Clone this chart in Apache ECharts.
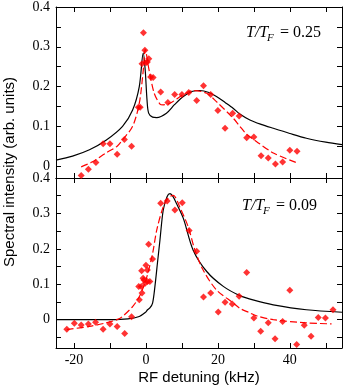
<!DOCTYPE html>
<html>
<head>
<meta charset="utf-8">
<script src="https://cdn.jsdelivr.net/npm/echarts@6/dist/echarts.min.js"></script>
<style>
  html, body { margin: 0; padding: 0; background: #fff; }
  #chart { width: 346px; height: 388px; }
</style>
</head>
<body>
<div id="chart"></div>
<script>
// top panel, T/TF = 0.25
var topPoints = [
  [-18, -0.024], [-16, -0.008], [-13.9, 0.009], [-11.9, 0.056], [-10, 0.056],
  [-8, 0.03], [-6, 0.067], [-4, 0.05], [-2.1, 0.148], [-1.6, 0.148],
  [-1.1, 0.257], [-0.7, 0.335], [-0.3, 0.291], [0, 0.26], [0.4, 0.262],
  [0.8, 0.27], [1.3, 0.224], [2, 0.223], [4.1, 0.186], [6.1, 0.16],
  [8, 0.18], [10, 0.18], [11.9, 0.185], [14.1, 0.165], [16, 0.202],
  [18, 0.18], [20, 0.14], [22, 0.095], [24.1, 0.133], [25.9, 0.126],
  [28, 0.071], [30, 0.073], [32, 0.026], [34, 0.02], [36, 0.005],
  [38, 0.01], [40, 0.04], [42, 0.037]
]
var topTheory = [
  [-25, 0.015], [-20.4, 0.025], [-15.7, 0.041], [-11.1, 0.065], [-6.5, 0.1],
  [-3.7, 0.141], [-1.85, 0.2], [-0.75, 0.285], [-0.2, 0.241], [0.3, 0.166],
  [0.75, 0.133], [1.85, 0.123], [3, 0.122], [5.7, 0.133], [8, 0.155],
  [10.4, 0.175], [13, 0.188], [15, 0.19], [17.5, 0.185], [19.6, 0.175],
  [22, 0.16], [24.3, 0.145], [26.1, 0.131], [28.9, 0.116], [32, 0.105],
  [35.4, 0.095], [40, 0.082], [44.6, 0.07], [50, 0.06], [54.5, 0.054]
]
var topFit = [
  [-18, -0.002], [-15, 0.01], [-11.1, 0.033], [-8, 0.05], [-6.5, 0.066],
  [-3.7, 0.1], [-1.85, 0.158], [-0.75, 0.24], [-0.2, 0.293], [0.9, 0.24],
  [2.3, 0.183], [3.9, 0.156], [4.8, 0.154], [6.7, 0.158], [10.4, 0.18],
  [13.1, 0.19], [16.9, 0.183], [19.6, 0.162], [24.3, 0.12], [26.1, 0.1],
  [28, 0.08], [30.7, 0.062], [35.4, 0.033], [42, 0.008]
]

// bottom panel, T/TF = 0.09
var botPoints = [
  [-22, -0.027], [-19.9, -0.01], [-18, -0.015], [-16, -0.012], [-14, -0.007],
  [-11.9, -0.027], [-10, -0.012], [-8, -0.019], [-5.9, -0.039], [-4, 0.008],
  [-1.85, 0.056], [-2, 0.094], [-1.3, 0.094], [-1.1, 0.075], [-1.2, 0.138],
  [-0.8, 0.117], [-0.55, 0.112], [-0.2, 0.103], [0, 0.154], [0.4, 0.14],
  [0.75, 0.213], [0.45, 0.108], [1.1, 0.108], [1.85, 0.171], [4.1, 0.329],
  [5.9, 0.335], [8.05, 0.31], [10.1, 0.33], [12, 0.252], [14.1, 0.193],
  [16, 0.064], [18, 0.075], [20.1, 0.022], [22, 0.049], [24, 0.044],
  [25.9, 0.066], [28, 0.133], [30, 0.005], [31.9, -0.033], [34, -0.009],
  [35.9, -0.054], [38, -0.005], [40, 0.083], [41.9, -0.07], [44, -0.016],
  [45.9, -0.047], [47.9, 0.006], [49.9, 0.005], [52, 0.028]
]
var botTheory = [
  [-25, 0], [-10, 0], [-5, 0.002], [-1.85, 0.009], [-0.2, 0.02],
  [0.45, 0.028], [1.1, 0.033], [1.85, 0.047], [2.5, 0.094], [3.2, 0.16],
  [3.9, 0.225], [4.8, 0.309], [5.9, 0.348], [6.7, 0.356], [7.5, 0.348],
  [8.5, 0.328], [10.4, 0.286], [13.1, 0.197], [16.9, 0.136], [21.5, 0.094],
  [26.1, 0.068], [30, 0.055], [35.4, 0.042], [44.6, 0.028], [54.5, 0.021]
]
var botFit = [
  [-22, -0.028], [-15.7, -0.019], [-11.1, -0.009], [-8, 0.0], [-6.5, 0.009],
  [-3.7, 0.037], [-1.85, 0.065], [0, 0.112], [1.85, 0.187], [3, 0.253],
  [4.8, 0.318], [6.3, 0.345], [7.6, 0.351], [9.4, 0.318], [11.75, 0.262],
  [13.6, 0.197], [15.9, 0.14], [19.6, 0.084], [24.3, 0.047], [26.1, 0.032],
  [28.9, 0.019], [30.7, 0.011], [35.4, 0], [44.6, -0.009], [51.6, -0.012]
]

var xTicks = [-20, -10, 0, 10, 20, 30, 40, 50]
var xLabels = [-20, 0, 20, 40]
var topYTicks = [0, 0.05, 0.1, 0.15, 0.2, 0.25, 0.3, 0.35, 0.4]
var botYTicks = [-0.05, 0, 0.05, 0.1, 0.15, 0.2, 0.25, 0.3, 0.35, 0.4]
var yLabels = [0, 0.1, 0.2, 0.3, 0.4]

var serif = '"Liberation Serif", "Times New Roman", serif'
var sans = '"Liberation Sans", Arial, sans-serif'

function xAxis(grid, pos, labels) {
  return {
    type: 'value', gridIndex: grid, position: pos, min: -25, max: 54.5,
    splitLine: { show: false },
    axisLine: { show: true, onZero: false, lineStyle: { color: '#000', width: 1 } },
    axisTick: { show: true, inside: true, length: 5, customValues: xTicks, lineStyle: { color: '#000' } },
    axisLabel: {
      show: labels, customValues: xLabels, color: '#000', fontFamily: serif, fontSize: 14, margin: 5
    }
  }
}
function yAxis(grid, pos, min, ticks, labels) {
  return {
    type: 'value', gridIndex: grid, position: pos, min: min, max: 0.4,
    splitLine: { show: false },
    axisLine: { show: true, onZero: false, lineStyle: { color: '#000', width: 1 } },
    axisTick: { show: true, inside: true, length: 5, customValues: ticks, lineStyle: { color: '#000' } },
    axisLabel: {
      show: labels, customValues: yLabels, color: '#000', fontFamily: serif, fontSize: 14, margin: 6,
      formatter: function (v) { return v === 0 ? '0' : v.toFixed(1) }
    }
  }
}

function scatter(x, y, data) {
  return {
    type: 'scatter', xAxisIndex: x, yAxisIndex: y, data: data,
    symbol: 'diamond', symbolSize: 7, itemStyle: { color: '#ff0000' }, z: 5
  }
}
function line(x, y, data, color, dashed) {
  return {
    type: 'line', xAxisIndex: x, yAxisIndex: y, data: data, smooth: 0.3,
    showSymbol: false, symbol: 'none',
    lineStyle: { color: color, width: 1.2, type: dashed ? [7, 3] : 'solid' }, z: 3
  }
}

var chart = echarts.init(document.getElementById('chart'))
chart.setOption({
  animation: false,
  grid: [
    { left: 56, top: 7, width: 286, height: 171 },
    { left: 56, top: 178, width: 286, height: 170 }
  ],
  xAxis: [
    xAxis(0, 'bottom', false),
    xAxis(0, 'top', false),
    xAxis(1, 'bottom', true),
    xAxis(1, 'top', false)
  ],
  yAxis: [
    yAxis(0, 'left', -0.03, topYTicks, true),
    yAxis(0, 'right', -0.03, topYTicks, false),
    yAxis(1, 'left', -0.08, botYTicks, true),
    yAxis(1, 'right', -0.08, botYTicks, false)
  ],
  series: [
    line(0, 0, topTheory, '#000', false),
    line(0, 0, topFit, '#ff0000', true),
    scatter(0, 0, topPoints),
    line(2, 2, botTheory, '#000', false),
    line(2, 2, botFit, '#ff0000', true),
    scatter(2, 2, botPoints)
  ],
  graphic: [
    {
      type: 'text', x: 10, y: 172, rotation: Math.PI / 2,
      style: { text: 'Spectral intensity (arb. units)', font: '15px ' + sans, fill: '#000', align: 'center', verticalAlign: 'middle' }
    },
    {
      type: 'text', x: 199, y: 378,
      style: { text: 'RF detuning (kHz)', font: '15px ' + sans, fill: '#000', align: 'center', verticalAlign: 'middle' }
    },
    { type: 'text', x: 246, y: 33, style: { text: 'T/T', font: 'italic 16px ' + serif, fill: '#000', verticalAlign: 'middle' } },
    { type: 'text', x: 267, y: 38, style: { text: 'F', font: 'italic 11px ' + serif, fill: '#000', verticalAlign: 'middle' } },
    { type: 'text', x: 280, y: 33, style: { text: '= 0.25', font: '16px ' + serif, fill: '#000', verticalAlign: 'middle' } },
    { type: 'text', x: 242, y: 206, style: { text: 'T/T', font: 'italic 16px ' + serif, fill: '#000', verticalAlign: 'middle' } },
    { type: 'text', x: 263, y: 211, style: { text: 'F', font: 'italic 11px ' + serif, fill: '#000', verticalAlign: 'middle' } },
    { type: 'text', x: 276, y: 206, style: { text: '= 0.09', font: '16px ' + serif, fill: '#000', verticalAlign: 'middle' } }
  ]
})
</script>
</body>
</html>
